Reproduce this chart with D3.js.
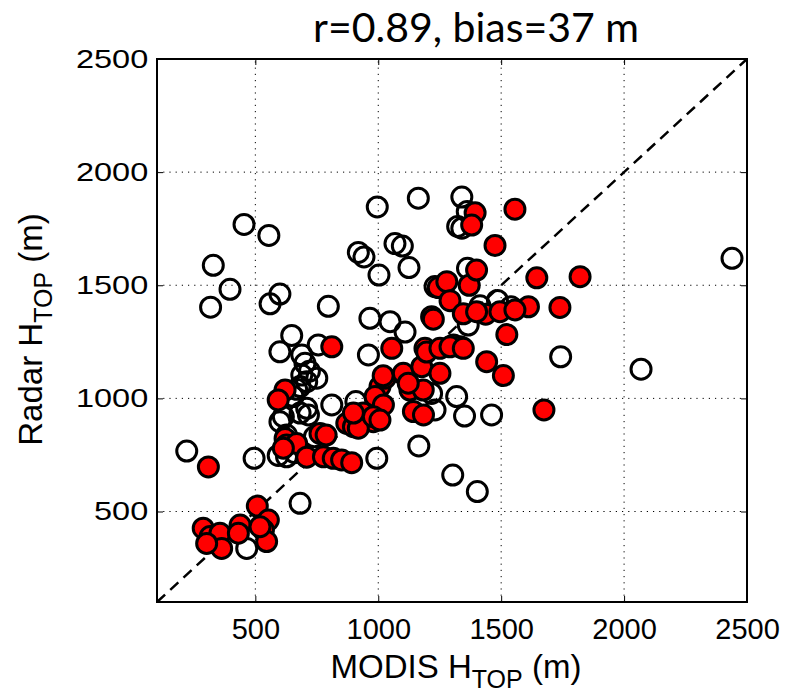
<!DOCTYPE html>
<html>
<head>
<meta charset="utf-8">
<script src="https://cdn.jsdelivr.net/npm/d3@7"></script>
<style>
  body { margin: 0; background: #fff; }
  svg { display: block; }
</style>
</head>
<body>
<svg id="chart" width="796" height="693"></svg>
<script>
// MODIS vs radar cloud-top height, metres
const openX = [221, 318, 329, 397, 454, 555, 560, 600, 797, 919, 942, 996, 1003, 1068, 1098, 1125, 1163, 1323, 1340, 1340,
  1362, 1363, 2439, 2069, 1742, 1461, 1351, 1319, 1303, 1403, 1231, 1165, 994, 495, 682, 465, 593, 627, 648, 600,
  756, 689, 702, 960, 966, 1048, 1109, 689, 750, 709, 682, 654, 811, 909, 709, 682, 614, 716, 627, 600,
  1231, 1366, 1414, 1485, 1540, 1217, 1333, 1306, 668, 720, 740, 660];
const openY = [767, 1403, 1588, 1482, 1769, 1720, 1418, 1461, 1407, 1645, 1625, 1846, 1545, 1684, 1673, 1578, 1885, 1760, 1890, 1752,
  1826, 1575, 1619, 1129, 1184, 927, 922, 1008, 661, 588, 949, 790, 735, 735, 536, 337, 748, 742, 1278, 1206,
  1236, 1192, 1155, 1192, 1354, 1339, 1293, 1103, 1089, 1074, 1052, 1008, 971, 986, 956, 935, 919, 927, 838, 897,
  1494, 1324, 1409, 1433, 1405, 1022, 1228, 1236, 1040, 1120, 830, 760];

const redX = [309, 508, 288, 316, 356, 363, 302, 438, 431, 553, 533, 546, 519, 621, 627, 668, 614, 709, 763, 788,
  777, 817, 851, 892, 872, 899, 939, 980, 919, 621, 593, 811, 1055, 1007, 1028, 1102, 987, 1021, 1129, 1183,
  899, 980, 1143, 1184, 1007, 1020, 1122, 1177, 1251, 1190, 1197, 1251, 1292, 1346, 1217, 1244, 1279, 1370, 1292, 1346,
  1400, 1394, 1380, 1556, 1475, 1645, 1821, 1611, 1739, 1523, 1441, 1509, 1674, 1437, 1495, 1556, 1400, 1224];
const redY = [697, 524, 426, 389, 404, 337, 359, 440, 404, 462, 418, 367, 433, 823, 794, 801, 780, 740, 845, 838,
  742, 735, 728, 716, 890, 875, 935, 897, 868, 1037, 993, 1228, 1221, 1052, 1089, 1111, 1008, 971, 1037, 1037,
  935, 919, 942, 927, 904, 1100, 1067, 1140, 1111, 1221, 1205, 1221, 1228, 1221, 1361, 1490, 1516, 1500, 1432, 1374,
  1567, 1820, 1766, 1836, 1676, 1533, 1538, 1405, 1402, 1282, 1162, 1101, 949, 1372, 1383, 1391, 1383, 1350];

const tickVals = [500, 1000, 1500, 2000, 2500];
const titleText = 'r=0.89, bias=37 m';

const margin = { top: 59, right: 49, bottom: 91, left: 157 };
const width = 796, height = 693;
const svg = d3.select('#chart');

const x = d3.scaleLinear([100, 2500], [margin.left, width - margin.right]);
const y = d3.scaleLinear([100, 2500], [height - margin.bottom, margin.top]);

const fontTick = '"Liberation Sans", Arial, sans-serif';
const fmt = d3.format('d');

// dotted grid
const grid = svg.append('g');
grid.selectAll('.gx')
  .data(tickVals.slice(0, -1))
  .join('line')
    .attr('x1', d => x(d)).attr('x2', d => x(d))
    .attr('y1', y(100)).attr('y2', y(2500))
    .attr('stroke', '#000')
    .attr('stroke-width', 1)
    .attr('stroke-dasharray', '1.2,5');
grid.selectAll('.gy')
  .data(tickVals.slice(0, -1))
  .join('line')
    .attr('y1', d => y(d)).attr('y2', d => y(d))
    .attr('x1', x(100)).attr('x2', x(2500))
    .attr('stroke', '#000')
    .attr('stroke-width', 1)
    .attr('stroke-dasharray', '1.2,5');

// 1:1 line
svg.append('line')
  .attr('x1', x(100)).attr('y1', y(100))
  .attr('x2', x(2500)).attr('y2', y(2500))
  .attr('stroke', '#000')
  .attr('stroke-width', 2.5)
  .attr('stroke-dasharray', '11,7');

// markers
const openPts = d3.zip(openX, openY);
const redPts = d3.zip(redX, redY);

svg.append('g')
  .selectAll('circle')
  .data(openPts)
  .join('circle')
    .attr('cx', d => x(d[0]))
    .attr('cy', d => y(d[1]))
    .attr('r', 10)
    .attr('fill', 'none')
    .attr('stroke', '#000')
    .attr('stroke-width', 3);

svg.append('g')
  .selectAll('circle')
  .data(redPts)
  .join('circle')
    .attr('cx', d => x(d[0]))
    .attr('cy', d => y(d[1]))
    .attr('r', 10)
    .attr('fill', '#ff0000')
    .attr('stroke', '#000')
    .attr('stroke-width', 3);

// axes, MATLAB style inward ticks on all four sides
const tickLen = 6;
svg.append('g')
  .attr('transform', `translate(0,${y(100)})`)
  .call(d3.axisBottom(x).tickValues(tickVals).tickFormat(fmt).tickSizeInner(-tickLen).tickSizeOuter(0).tickPadding(16))
  .call(g => g.select('.domain').remove())
  .call(g => g.selectAll('text').attr('font-family', fontTick).attr('font-size', 29).attr('fill', '#000'));

svg.append('g')
  .attr('transform', `translate(${x(100)},0)`)
  .call(d3.axisLeft(y).tickValues(tickVals).tickFormat(fmt).tickSizeInner(-tickLen).tickSizeOuter(0))
  .call(g => g.select('.domain').remove())
  .call(g => g.selectAll('text')
    .attr('font-family', fontTick).attr('font-size', 26).attr('fill', '#000')
    .attr('transform', 'scale(1.25,1)')
    .attr('x', -7));

svg.append('g')
  .attr('transform', `translate(0,${y(2500)})`)
  .call(d3.axisTop(x).tickValues(tickVals).tickSizeInner(-tickLen).tickSizeOuter(0).tickFormat(''))
  .call(g => g.select('.domain').remove());

svg.append('g')
  .attr('transform', `translate(${x(2500)},0)`)
  .call(d3.axisRight(y).tickValues(tickVals).tickSizeInner(-tickLen).tickSizeOuter(0).tickFormat(''))
  .call(g => g.select('.domain').remove());

// box
svg.append('rect')
  .attr('x', x(100)).attr('y', y(2500))
  .attr('width', x(2500) - x(100))
  .attr('height', y(100) - y(2500))
  .attr('fill', 'none')
  .attr('stroke', '#000')
  .attr('stroke-width', 2);

// title
svg.append('text')
  .attr('x', 476)
  .attr('y', 42)
  .attr('text-anchor', 'middle')
  .attr('font-family', 'Lato, sans-serif')
  .attr('font-size', 41)
  .text(titleText);

// axis labels with subscript
const xl = svg.append('text')
  .attr('x', 456)
  .attr('y', 678)
  .attr('text-anchor', 'middle')
  .attr('font-family', fontTick)
  .attr('font-size', 33);
xl.append('tspan').text('MODIS H');
xl.append('tspan').attr('font-size', 25).attr('dy', 10).text('TOP');
xl.append('tspan').attr('dy', -10).text(' (m)');

const yl = svg.append('text')
  .attr('transform', `translate(42,${(y(100) + y(2500)) / 2 - 1}) rotate(-90)`)
  .attr('text-anchor', 'middle')
  .attr('font-family', fontTick)
  .attr('font-size', 33);
yl.append('tspan').text('Radar H');
yl.append('tspan').attr('font-size', 25).attr('dy', 10).text('TOP');
yl.append('tspan').attr('dy', -10).text(' (m)');
</script>
</body>
</html>
